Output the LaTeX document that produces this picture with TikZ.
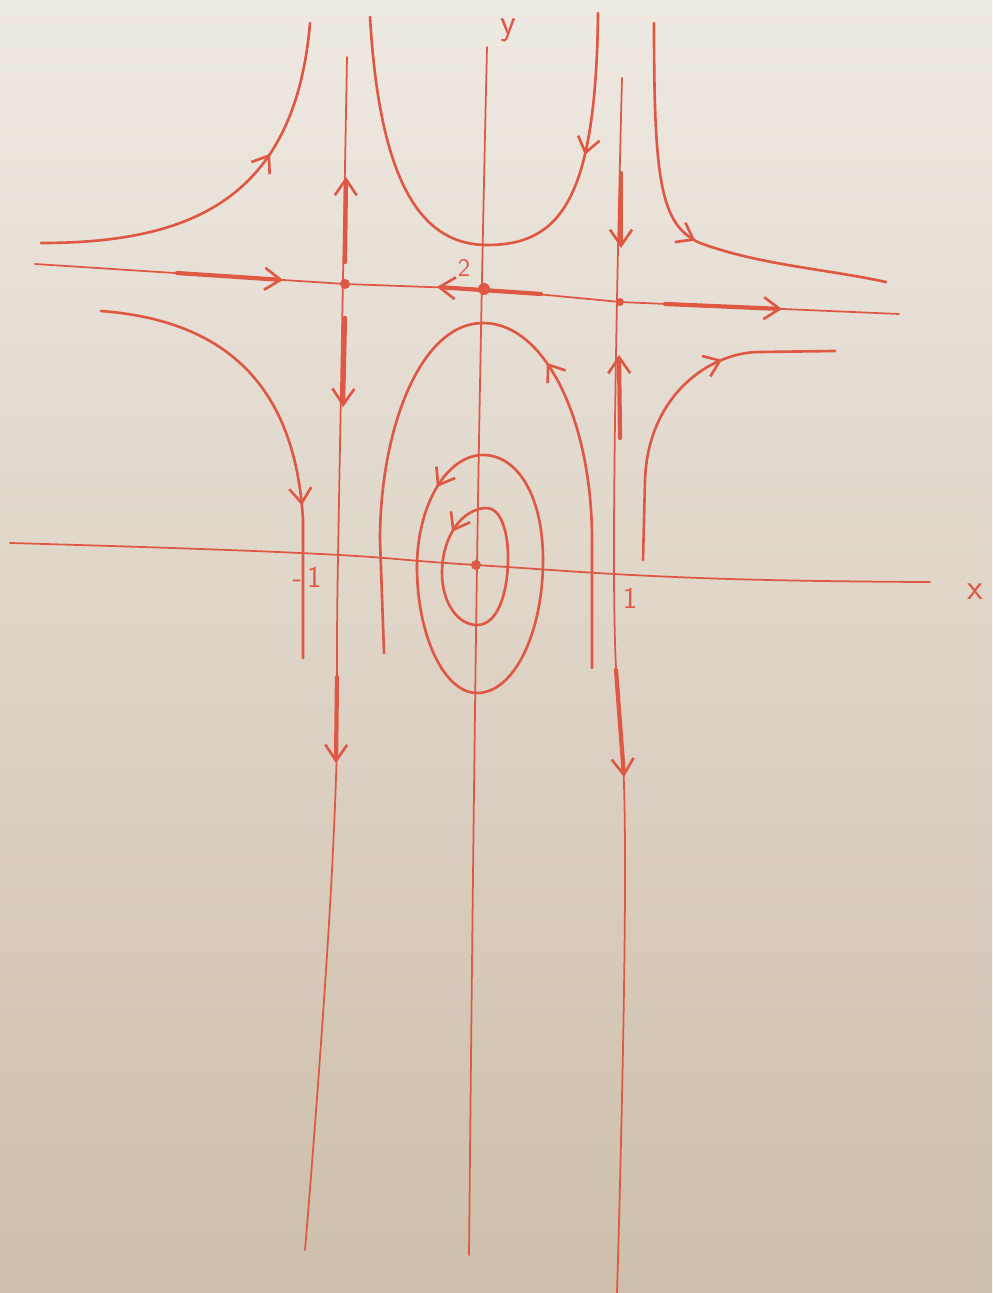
\documentclass[tikz,border=0pt]{standalone}
\usepackage{xcolor}
\usepackage{tikz}
\usetikzlibrary{arrows.meta,decorations.markings}

\definecolor{ink}{RGB}{222,88,68}
\definecolor{paperTop}{RGB}{238,233,226}
\definecolor{paperBot}{RGB}{206,190,171}

\begin{document}
\begin{tikzpicture}[x=0.02cm, y=-0.02cm,
  axis/.style={draw=ink, line width=1pt, line cap=round},
  orbit/.style={draw=ink, line width=1.5pt, line cap=round, line join=round},
  flow/.style={draw=ink, line width=2.4pt, line cap=round, -{Straight Barb[length=3.2mm, width=4.4mm, line width=1.5pt]}},
  midarrow/.style={postaction={decorate, decoration={markings, mark=at position #1 with {\arrow{Straight Barb[length=3mm, width=4.4mm]}}}}},
  eqpt/.style={circle, fill=ink, inner sep=0pt, minimum size=#1},
  lab/.style={text=ink, font=\sffamily#1, inner sep=0pt},
  lab/.default=\Large
]
  \useasboundingbox (0,0) rectangle (992,1293);
  \shade[top color=paperTop, bottom color=paperBot] (0,0) rectangle (992,1293);

  % axes and the straight separatrices
  \draw[axis] (35,264) -- (345,284) -- (484,289) -- (620,302) -- (899,314);
  \draw[axis] plot[smooth, tension=0.8] coordinates {(10,543) (300,553) (476,565) (700,578) (930,582)};
  \draw[axis] plot[smooth, tension=0.8] coordinates {(487,47) (477,565) (469,1255)};
  \draw[axis] plot[smooth, tension=0.8] coordinates {(347,57) (338,557) (333,850) (305,1250)};
  \draw[axis] plot[smooth, tension=0.8] coordinates {(622,78) (614,573) (625,850) (617,1293)};

  % flow along the separatrices
  \draw[flow] (177,273) -- (283,280);
  \draw[flow] (541,294) -- (437,287);
  \draw[flow] (665,304) -- (782,309);
  \draw[flow] (345,262) -- (346,177);
  \draw[flow] (345,318) -- (343,407);
  \draw[flow] (337,677) -- (336,763);
  \draw[flow] (621,173) -- (621,248);
  \draw[flow] (620,438) -- (619,355);
  \draw[flow] (616,670) -- (624,777);

  % trajectories above y=2
  \draw[orbit, midarrow=0.65] (41,243) .. controls (190,243) and (295,200) .. (310,23);
  \draw[orbit, midarrow=0.25] (598,13) .. controls (596,200) and (560,245) .. (487,245)
    .. controls (425,245) and (380,190) .. (370,17);
  \draw[orbit, midarrow=0.54] (654,23) .. controls (654,180) and (660,225) .. (700,243)
    .. controls (760,265) and (820,268) .. (886,282);

  % trajectories below y=2
  \draw[orbit, midarrow=0.67] (101,311) .. controls (220,320) and (295,380) .. (303,520) -- (303,658);
  \draw[orbit, midarrow=0.41] (592,668) -- (592,540) .. controls (592,420) and (545,323) .. (483,323)
    .. controls (420,323) and (380,430) .. (380,540) -- (384,653);
  \draw[orbit, midarrow=0.67] (643,560) -- (645,480) .. controls (648,395) and (710,352) .. (760,352) -- (835,351);

  % closed orbits round the centre
  \draw[orbit, midarrow=0.1] (483,455) .. controls (447,455) and (417,505) .. (417,567)
    .. controls (417,635) and (444,693) .. (477,693)
    .. controls (514,693) and (543,633) .. (543,560)
    .. controls (543,495) and (517,455) .. cycle;
  \draw[orbit, midarrow=0.15] (487,508) .. controls (462,508) and (442,537) .. (442,573)
    .. controls (442,603) and (458,625) .. (477,625)
    .. controls (497,625) and (508,595) .. (508,557)
    .. controls (508,530) and (500,508) .. cycle;

  % equilibria
  \node[eqpt=0.2cm] (sadL) at (345,284) {};
  \node[eqpt=0.24cm] (sadM) at (484,289) {};
  \node[eqpt=0.16cm] (sadR) at (620,302) {};
  \node[eqpt=0.2cm] (ctr) at (476,565) {};

  \node[lab=\huge] (ylab) at (508,30) {y};
  \node[lab=\Large] (two) at (464,268) {2};
  \node[lab=\LARGE] (mone) at (307,577) {-\,1};
  \node[lab=\LARGE] (one) at (630,598) {1};
  \node[lab=\huge] (xlab) at (975,592) {x};
\end{tikzpicture}
\end{document}
